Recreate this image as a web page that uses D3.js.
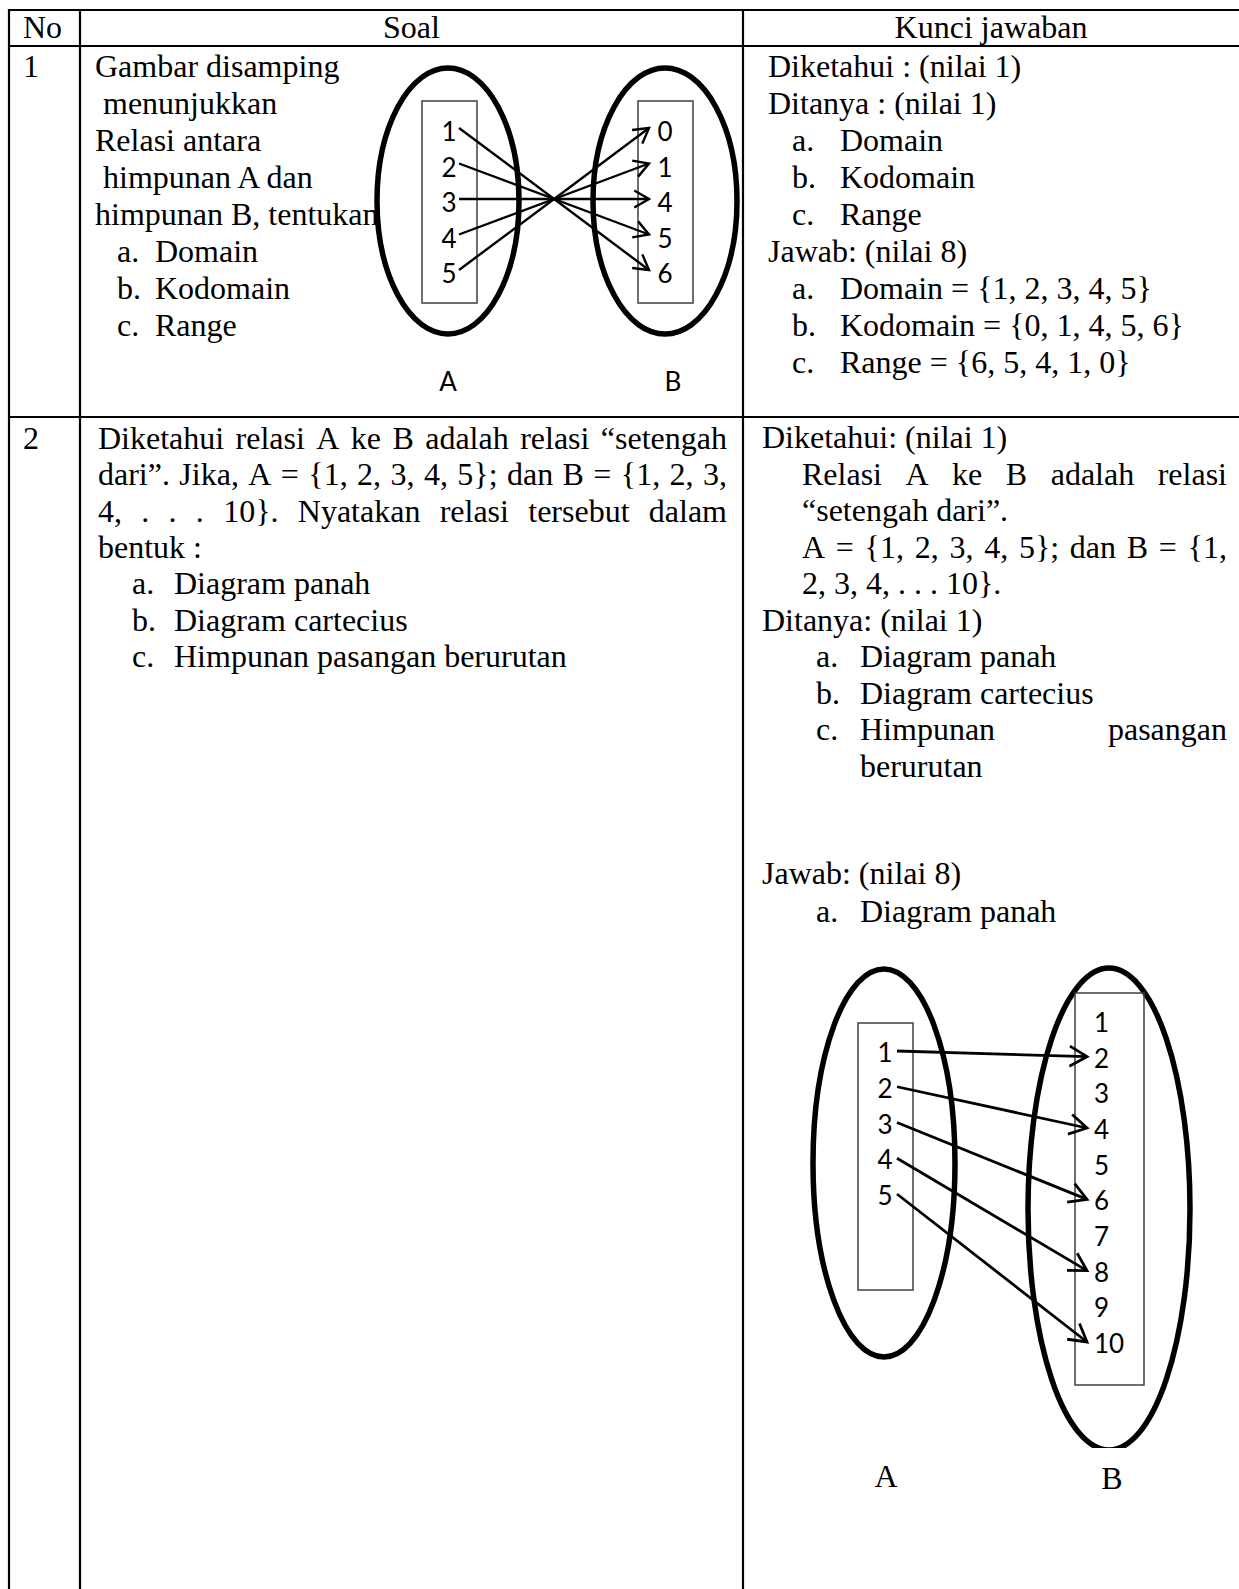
<!DOCTYPE html>
<html>
  <head>
    <meta charset="utf-8" />
    <title>Soal relasi</title>
    <script src="https://d3js.org/d3.v7.min.js"></script>
    <style>
      body { margin: 0; background: #fff; }
      svg text { white-space: pre; }
      .serif { font-family: "Liberation Serif", "Times New Roman", serif; font-size: 32px; fill: #000; }
      .sans { font-family: Lato, "Open Sans", sans-serif; font-size: 26px; fill: #000; }
    </style>
  </head>
  <body>
    <script>
      // table content
      const headers = ["No", "Soal", "Kunci jawaban"];
      const rowNumbers = ["1", "2"];

      const soal1Lines = [
        "Gambar disamping",
        " menunjukkan",
        "Relasi antara",
        " himpunan A dan",
        "himpunan B, tentukan",
      ];
      const soal1Items = ["Domain", "Kodomain", "Range"];

      const kunci1Known = "Diketahui : (nilai 1)";
      const kunci1Asked = "Ditanya : (nilai 1)";
      const kunci1AskedItems = ["Domain", "Kodomain", "Range"];
      const kunci1Answer = "Jawab: (nilai 8)";
      const kunci1AnswerItems = [
        "Domain = {1, 2, 3, 4, 5}",
        "Kodomain = {0, 1, 4, 5, 6}",
        "Range = {6, 5, 4, 1, 0}",
      ];

      const soal2Justified = [
        "Diketahui relasi A ke B adalah relasi “setengah",
        "dari”. Jika, A = {1, 2, 3, 4, 5}; dan B = {1, 2, 3,",
        "4, . . . 10}. Nyatakan relasi tersebut dalam",
      ];
      const soal2Last = "bentuk :";
      const soal2Items = ["Diagram panah", "Diagram cartecius", "Himpunan pasangan berurutan"];

      const kunci2Known = "Diketahui: (nilai 1)";
      const kunci2KnownLines = [
        { text: "Relasi A ke B adalah relasi", justify: true },
        { text: "“setengah dari”.", justify: false },
        { text: "A = {1, 2, 3, 4, 5}; dan B = {1,", justify: true },
        { text: "2, 3, 4, . . . 10}.", justify: false },
      ];
      const kunci2Asked = "Ditanya: (nilai 1)";
      const kunci2AskedItems = ["Diagram panah", "Diagram cartecius", "Himpunan pasangan"];
      const kunci2AskedWrap = "berurutan";
      const kunci2Answer = "Jawab: (nilai 8)";
      const kunci2AnswerItem = "Diagram panah";

      // arrow diagrams
      const setA1 = [1, 2, 3, 4, 5];
      const setB1 = [0, 1, 4, 5, 6];
      const rel1 = [[1, 6], [2, 5], [3, 4], [4, 1], [5, 0]];

      const setA2 = [1, 2, 3, 4, 5];
      const setB2 = [1, 2, 3, 4, 5, 6, 7, 8, 9, 10];
      const rel2 = [[1, 2], [2, 4], [3, 6], [4, 8], [5, 10]];

      const setNames = ["A", "B"];
      const letters = ["a.", "b.", "c."];

      const width = 1239;
      const height = 1589;

      const svg = d3
        .select("body")
        .append("svg")
        .attr("width", width)
        .attr("height", height);

      svg.append("defs")
        .append("clipPath")
        .attr("id", "cut-bottom")
        .append("rect")
        .attr("x", 0)
        .attr("y", 0)
        .attr("width", width)
        .attr("height", 1448);

      // grid
      const colX = [9, 80, 743];
      const rowY = [10, 46, 417];
      const grid = svg.append("g").attr("stroke", "#000").attr("stroke-width", 2.2);
      grid.selectAll("line.h")
        .data(rowY)
        .join("line")
        .attr("class", "h")
        .attr("x1", colX[0] - 1)
        .attr("x2", width)
        .attr("y1", (d) => d)
        .attr("y2", (d) => d);
      grid.selectAll("line.v")
        .data(colX)
        .join("line")
        .attr("class", "v")
        .attr("x1", (d) => d)
        .attr("x2", (d) => d)
        .attr("y1", rowY[0] - 1)
        .attr("y2", height);

      const txt = svg.append("g");

      function put(s, x, y, cls, anchor) {
        return txt
          .append("text")
          .attr("class", cls || "serif")
          .attr("x", x)
          .attr("y", y)
          .attr("text-anchor", anchor || "start")
          .text(s);
      }

      // spread words between x0 and x1 like a justified paragraph line
      function justify(s, x0, x1, y) {
        const words = s.split(" ");
        const nodes = words.map((w) => put(w, 0, y));
        const widths = nodes.map((n) => n.node().getComputedTextLength());
        const gap = (x1 - x0 - d3.sum(widths)) / (words.length - 1);
        let x = x0;
        nodes.forEach((n, i) => {
          n.attr("x", x);
          x += widths[i] + gap;
        });
      }

      // header
      put(headers[0], 23, 38);
      put(headers[1], (colX[1] + colX[2]) / 2, 38, "serif", "middle");
      put(headers[2], (colX[2] + width) / 2, 38, "serif", "middle");

      // row 1
      put(rowNumbers[0], 23, 77);
      const lh1 = 37;
      soal1Lines.forEach((s, i) => put(s, 95, 77 + lh1 * i));
      soal1Items.forEach((s, i) => {
        const y = 77 + lh1 * (soal1Lines.length + i);
        put(letters[i], 117, y);
        put(s, 155, y);
      });

      put(kunci1Known, 768, 77);
      put(kunci1Asked, 768, 77 + lh1);
      kunci1AskedItems.forEach((s, i) => {
        const y = 77 + lh1 * (2 + i);
        put(letters[i], 792, y);
        put(s, 840, y);
      });
      put(kunci1Answer, 768, 77 + lh1 * 5);
      kunci1AnswerItems.forEach((s, i) => {
        const y = 77 + lh1 * (6 + i);
        put(letters[i], 792, y);
        put(s, 840, y);
      });

      // row 2 soal
      put(rowNumbers[1], 23, 449);
      const lh2 = 36.3;
      soal2Justified.forEach((s, i) => justify(s, 98, 727, 449 + lh2 * i));
      put(soal2Last, 98, 449 + lh2 * 3);
      soal2Items.forEach((s, i) => {
        const y = 449 + lh2 * (4 + i);
        put(letters[i], 132, y);
        put(s, 174, y);
      });

      // row 2 kunci
      const lh3 = 36.5;
      put(kunci2Known, 762, 448);
      kunci2KnownLines.forEach((d, i) => {
        const y = 448 + lh3 * (1 + i);
        if (d.justify) justify(d.text, 802, 1227, y);
        else put(d.text, 802, y);
      });
      put(kunci2Asked, 762, 448 + lh3 * 5);
      kunci2AskedItems.forEach((s, i) => {
        const y = 448 + lh3 * (6 + i);
        put(letters[i], 816, y);
        if (i === 2) justify(s, 860, 1227, y);
        else put(s, 860, y);
      });
      put(kunci2AskedWrap, 860, 448 + lh3 * 9);
      put(kunci2Answer, 762, 884);
      put(letters[0], 816, 922);
      put(kunci2AnswerItem, 860, 922);

      // arrow helper: line plus open V head
      function arrow(g, x1, y1, x2, y2, len, sw) {
        const a = Math.atan2(y2 - y1, x2 - x1);
        const spread = Math.PI / 6;
        g.append("line")
          .attr("x1", x1).attr("y1", y1)
          .attr("x2", x2).attr("y2", y2)
          .attr("stroke", "#000").attr("stroke-width", sw);
        const head = [
          [x2 - len * Math.cos(a - spread), y2 - len * Math.sin(a - spread)],
          [x2, y2],
          [x2 - len * Math.cos(a + spread), y2 - len * Math.sin(a + spread)],
        ];
        g.append("path")
          .attr("d", d3.line()(head))
          .attr("fill", "none")
          .attr("stroke", "#000")
          .attr("stroke-width", sw)
          .attr("stroke-linejoin", "miter");
      }

      function diagram(cfg) {
        const g = svg.append("g");
        const yA = d3.scalePoint().domain(cfg.setA).range(cfg.rangeA);
        const yB = d3.scalePoint().domain(cfg.setB).range(cfg.rangeB);

        cfg.ellipses.forEach((e) => {
          g.append("ellipse")
            .attr("cx", e.cx).attr("cy", e.cy)
            .attr("rx", e.rx).attr("ry", e.ry)
            .attr("fill", "none")
            .attr("stroke", "#000")
            .attr("stroke-width", 5.5)
            .attr("clip-path", e.clip ? "url(#cut-bottom)" : null);
        });
        cfg.rects.forEach((r) => {
          g.append("rect")
            .attr("x", r[0]).attr("y", r[1])
            .attr("width", r[2] - r[0]).attr("height", r[3] - r[1])
            .attr("fill", "none")
            .attr("stroke", "#404040")
            .attr("stroke-width", 1.5);
        });

        g.selectAll("text.a")
          .data(cfg.setA)
          .join("text")
          .attr("class", "a sans")
          .attr("x", cfg.xA)
          .attr("y", (d) => yA(d) + 9)
          .attr("text-anchor", "middle")
          .text((d) => d);
        g.selectAll("text.b")
          .data(cfg.setB)
          .join("text")
          .attr("class", "b sans")
          .attr("x", cfg.xB)
          .attr("y", (d) => yB(d) + 9)
          .attr("text-anchor", cfg.anchorB)
          .text((d) => d);

        cfg.rel.forEach(([a, b]) => {
          arrow(g, cfg.startX, yA(a) + cfg.dy, cfg.endX, yB(b) + cfg.dy, cfg.head, cfg.sw);
        });

        cfg.labels.forEach((l, i) => {
          g.append("text")
            .attr("class", cfg.labelClass)
            .attr("x", l[0])
            .attr("y", l[1])
            .attr("text-anchor", "middle")
            .text(setNames[i]);
        });
      }

      diagram({
        setA: setA1,
        setB: setB1,
        rel: rel1,
        rangeA: [132, 274],
        rangeB: [132, 274],
        ellipses: [
          { cx: 448, cy: 201, rx: 71, ry: 133 },
          { cx: 665, cy: 201, rx: 72, ry: 133 },
        ],
        rects: [[422, 101, 477, 303], [638, 101, 693, 303]],
        xA: 449,
        xB: 665,
        anchorB: "middle",
        startX: 459,
        endX: 649,
        dy: -4,
        head: 17,
        sw: 2.4,
        labels: [[448, 391], [673, 391]],
        labelClass: "sans",
      });

      diagram({
        setA: setA2,
        setB: setB2,
        rel: rel2,
        rangeA: [1053, 1196],
        rangeB: [1023, 1344],
        ellipses: [
          { cx: 884, cy: 1163, rx: 71, ry: 194 },
          { cx: 1109, cy: 1209, rx: 81, ry: 241, clip: true },
        ],
        rects: [[858, 1023, 913, 1290], [1075, 993, 1144, 1385]],
        xA: 885,
        xB: 1094,
        anchorB: "start",
        startX: 897,
        endX: 1087,
        dy: -2,
        head: 20,
        sw: 2.8,
        labels: [[886, 1487], [1112, 1489]],
        labelClass: "serif",
      });
    </script>
  </body>
</html>
